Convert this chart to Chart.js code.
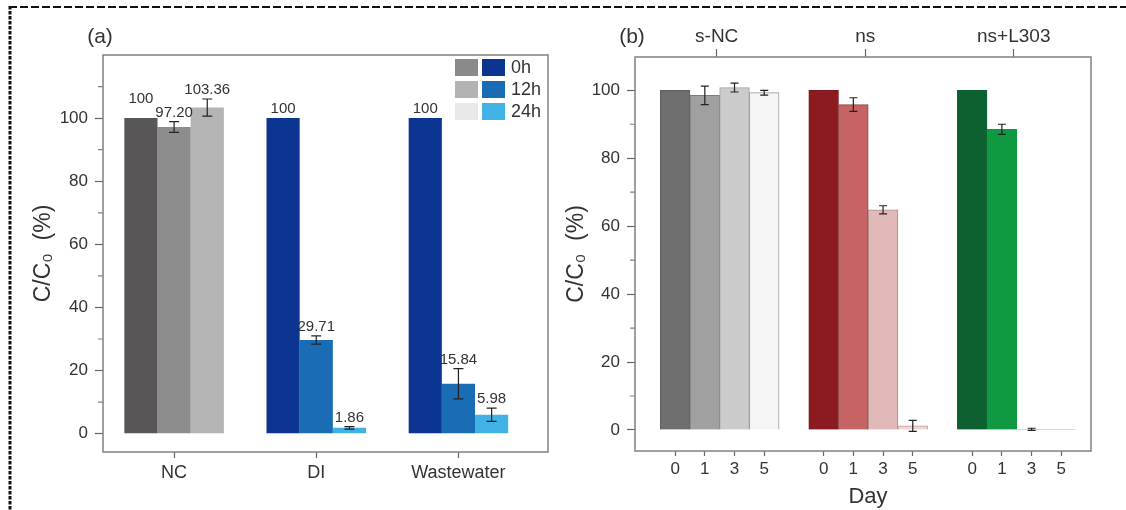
<!DOCTYPE html>
<html>
<head>
<meta charset="utf-8">
<script src="https://cdn.jsdelivr.net/npm/chart.js@4.4.1/dist/chart.umd.min.js"></script>
<style>
  html, body { margin: 0; padding: 0; background: #fff; }
  #wrap { position: relative; width: 1126px; height: 510px; overflow: hidden; }
  canvas { position: absolute; top: 0; }
</style>
</head>
<body>
<div id="wrap">
  <canvas id="frame" width="1126" height="510" style="left:0"></canvas>
  <canvas id="chartA" width="563" height="510" style="left:0"></canvas>
  <canvas id="chartB" width="563" height="510" style="left:563px"></canvas>
</div>
<script>
// ---- panel (a) data ----
const groupsA = ["NC", "DI", "Wastewater"];
const timesA = ["0h", "12h", "24h"];
const a0h = [100, 100, 100];
const a12h = [97.20, 29.71, 15.84];
const a24h = [103.36, 1.86, 5.98];
const a0hErr = [0, 0, 0];
const a12hErr = [1.7, 1.3, 4.8];
const a24hErr = [2.7, 0.4, 2.1];
const yTicksA = [0, 20, 40, 60, 80, 100];
const yMinorA = [10, 30, 50, 70, 90, 110];

// ---- panel (b) data ----
const groupsB = ["s-NC", "ns", "ns+L303"];
const daysB = ["0", "1", "3", "5"];
const sNC = [100, 98.5, 100.8, 99.3];
const ns = [100, 95.8, 64.8, 1.2];
const nsL303 = [100, 88.5, 0.2, 0.1];
const sNCErr = [0, 2.7, 1.3, 0.7];
const nsErr = [0, 2.0, 1.2, 1.6];
const nsL303Err = [0, 1.5, 0.3, 0];
const yTicksB = [0, 20, 40, 60, 80, 100];
const yMinorB = [10, 30, 50, 70, 90];

// ---- styles ----
const FONT = "'Liberation Sans', Arial, sans-serif";
const TEXT = "#333";
const AXIS = "#808080";
const grayA = ["#595657", "#8d8d8d", "#b4b4b4"];
const blueA = ["#0c3591", "#1a6db5", "#40b2e6"];
const legendGrayA = ["#8a8a8a", "#b3b3b3", "#e9e9e9"];
const colorsB = [
  ["#6e6e6e", "#a0a0a0", "#cbcbcb", "#f5f5f5"],
  ["#8c1b21", "#c66363", "#e2b9b9", "#f2d4d4"],
  ["#0d6131", "#0f9a42", "#dcefe1", "#dcefe1"]
];
const edgesB = [
  ["#5e5e5e", "#7c7c7c", "#a2a2a2", "#9c9c9c"],
  ["#7a1a1e", "#8e4646", "#b08a8a", "#c0a0a0"],
  ["#0d6131", "#0f9a42", "#7a8a80", "#7a8a80"]
];

// error bars, value labels, frame, minor ticks, titles
const panelPlugin = {
  id: "panel",
  afterDatasetsDraw(chart, args, opts) {
    const ctx = chart.ctx;
    const y = chart.scales.y;
    ctx.save();
    ctx.strokeStyle = "#222";
    ctx.lineWidth = 1.2;
    chart.data.datasets.forEach((ds, di) => {
      chart.getDatasetMeta(di).data.forEach((bar, i) => {
        const e = ds.err[i];
        if (!e) return;
        const v = ds.data[i].y;
        const top = y.getPixelForValue(v + e);
        const bot = y.getPixelForValue(v - e);
        const c = opts.cap;
        ctx.beginPath();
        ctx.moveTo(bar.x, top); ctx.lineTo(bar.x, bot);
        ctx.moveTo(bar.x - c, top); ctx.lineTo(bar.x + c, top);
        ctx.moveTo(bar.x - c, bot); ctx.lineTo(bar.x + c, bot);
        ctx.stroke();
      });
    });

    if (opts.valueLabels) {
      ctx.font = "15px " + FONT;
      ctx.fillStyle = TEXT;
      ctx.textAlign = "center";
      ctx.textBaseline = "alphabetic";
      const placed = [];
      for (let di = chart.data.datasets.length - 1; di >= 0; di--) {
        const ds = chart.data.datasets[di];
        chart.getDatasetMeta(di).data.forEach((bar, i) => {
          const v = ds.data[i].y;
          const txt = v === 100 ? "100" : v.toFixed(2);
          const w = ctx.measureText(txt).width;
          const h = 11;
          let base = y.getPixelForValue(v + ds.err[i]) - 5;
          const box = { l: bar.x - w / 2 - 3, r: bar.x + w / 2 + 3, t: base - h, b: base };
          placed.forEach(p => {
            if (box.l < p.r && box.r > p.l && box.t < p.b && box.b > p.t) {
              base = p.t - 3;
              box.b = base;
              box.t = base - h;
            }
          });
          placed.push(box);
          ctx.fillText(txt, bar.x, base);
        });
      }
    }
    ctx.restore();
  },
  afterDraw(chart, args, opts) {
    const ctx = chart.ctx;
    const a = chart.chartArea;
    const y = chart.scales.y;
    ctx.save();
    ctx.strokeStyle = AXIS;
    ctx.lineWidth = 1.5;
    ctx.strokeRect(a.left, a.top, a.right - a.left, a.bottom - a.top);

    ctx.lineWidth = 1.2;
    ctx.beginPath();
    opts.minor.forEach(v => {
      const p = y.getPixelForValue(v);
      ctx.moveTo(a.left - 5, p);
      ctx.lineTo(a.left, p);
    });
    ctx.stroke();

    ctx.fillStyle = TEXT;
    ctx.textAlign = "center";
    ctx.textBaseline = "middle";
    ctx.font = "21px " + FONT;
    ctx.fillText(opts.tag, opts.tagX, 37);

    if (opts.xTitle) {
      ctx.font = "22px " + FONT;
      ctx.fillText(opts.xTitle, (a.left + a.right) / 2 + 5, 497);
    }

    if (opts.legend) {
      ctx.font = "18px " + FONT;
      ctx.textAlign = "left";
      chart.data.datasets.forEach((ds, i) => {
        const top = a.top + 4 + i * 22;
        ctx.fillStyle = ds.legendGray;
        ctx.fillRect(a.right - 93, top, 23, 17);
        ctx.fillStyle = ds.legendColor;
        ctx.fillRect(a.right - 66, top, 23, 17);
        ctx.fillStyle = TEXT;
        ctx.fillText(ds.label, a.right - 37, top + 9);
      });
    }

    ctx.translate(opts.yTitleX, (a.top + a.bottom) / 2);
    ctx.rotate(-Math.PI / 2);
    ctx.font = "23px " + FONT;
    ctx.textAlign = "center";
    ctx.fillStyle = TEXT;
    ctx.fillText("C/C\u2080  (%)", 0, 0);
    ctx.restore();
  }
};

const yScale = (min, max, ticks, width) => ({
  type: "linear",
  min: min,
  max: max,
  afterBuildTicks: s => { s.ticks = ticks.map(v => ({ value: v })); },
  afterFit: s => { s.width = width; },
  border: { display: false },
  grid: { drawOnChartArea: false, drawTicks: true, tickLength: 8, tickColor: "#666", tickWidth: 1.2 },
  ticks: { color: TEXT, font: { family: FONT, size: 17 }, padding: 7 }
});

// ---- panel (a) ----
const seriesA = [a0h, a12h, a24h];
const errA = [a0hErr, a12hErr, a24hErr];

new Chart(document.getElementById("chartA"), {
  type: "bar",
  data: {
    datasets: timesA.map((t, s) => ({
      label: t,
      data: groupsA.map((g, i) => ({ x: i, y: seriesA[s][i] })),
      err: errA[s],
      backgroundColor: groupsA.map((g, i) => (i === 0 ? grayA[s] : blueA[s])),
      legendGray: legendGrayA[s],
      legendColor: blueA[s],
      borderWidth: 0,
      barPercentage: 1,
      categoryPercentage: 0.7
    }))
  },
  options: {
    responsive: false,
    animation: false,
    layout: { padding: { top: 55, right: 15, left: 0, bottom: 0 } },
    plugins: {
      legend: { display: false },
      tooltip: { enabled: false },
      panel: { cap: 5, valueLabels: true, minor: yMinorA, tag: "(a)", tagX: 100, yTitleX: 44, legend: true }
    },
    scales: {
      x: {
        type: "linear",
        min: -0.5,
        max: 2.63,
        offset: false,
        afterBuildTicks: s => { s.ticks = groupsA.map((g, i) => ({ value: i })); },
        afterFit: s => { s.height = 58; },
        border: { display: false },
        grid: { offset: false, drawOnChartArea: false, drawTicks: true, tickLength: 6, tickColor: "#666", tickWidth: 1.2 },
        ticks: {
          color: TEXT,
          font: { family: FONT, size: 18 },
          padding: 4,
          maxRotation: 0,
          callback: (v, i) => groupsA[i]
        }
      },
      y: yScale(-5.8, 120, yTicksA, 103)
    }
  },
  plugins: [panelPlugin]
});

// ---- panel (b) ----
const seriesB = [sNC, ns, nsL303];
const errB = [sNCErr, nsErr, nsL303Err];

new Chart(document.getElementById("chartB"), {
  type: "bar",
  data: {
    datasets: [{
      label: "C/C0",
      xAxisID: "x",
      data: groupsB.flatMap((g, gi) => daysB.map((d, k) => ({ x: gi * 5 + k, y: seriesB[gi][k] }))),
      err: errB.flat(),
      backgroundColor: colorsB.flat(),
      borderColor: edgesB.flat(),
      borderWidth: 1,
      barPercentage: 1,
      categoryPercentage: 1
    }]
  },
  options: {
    responsive: false,
    animation: false,
    layout: { padding: { top: 0, right: 35, left: 0, bottom: 0 } },
    plugins: {
      legend: { display: false },
      tooltip: { enabled: false },
      panel: { cap: 4, valueLabels: false, minor: yMinorB, tag: "(b)", tagX: 69, yTitleX: 14, xTitle: "Day" }
    },
    scales: {
      x: {
        type: "linear",
        min: -1.35,
        max: 14,
        offset: false,
        afterBuildTicks: s => {
          s.ticks = groupsB.flatMap((g, gi) => daysB.map((d, k) => ({ value: gi * 5 + k })));
        },
        afterFit: s => { s.height = 59; },
        border: { display: false },
        grid: { offset: false, drawOnChartArea: false, drawTicks: true, tickLength: 5, tickColor: "#666", tickWidth: 1.2 },
        ticks: {
          color: TEXT,
          font: { family: FONT, size: 17 },
          padding: 3,
          maxRotation: 0,
          autoSkip: false,
          callback: (v, i) => daysB[i % daysB.length]
        }
      },
      x2: {
        type: "linear",
        position: "top",
        min: -1.35,
        max: 14,
        offset: false,
        afterBuildTicks: s => { s.ticks = groupsB.map((g, gi) => ({ value: gi * 5 + 1.4 })); },
        afterFit: s => { s.height = 57; },
        border: { display: false },
        grid: { offset: false, drawOnChartArea: false, drawTicks: true, tickLength: 8, tickColor: "#666", tickWidth: 1.2 },
        ticks: {
          color: TEXT,
          font: { family: FONT, size: 19 },
          padding: 1,
          maxRotation: 0,
          autoSkip: false,
          callback: (v, i) => groupsB[i]
        }
      },
      y: yScale(-6.2, 109.8, yTicksB, 72)
    }
  },
  plugins: [panelPlugin]
});

// ---- dashed outer frame ----
const fctx = document.getElementById("frame").getContext("2d");
fctx.strokeStyle = "#111";
fctx.lineWidth = 2;
fctx.setLineDash([8, 3]);
fctx.beginPath();
fctx.moveTo(9, 7);
fctx.lineTo(1126, 7);
fctx.stroke();
fctx.lineWidth = 3;
fctx.setLineDash([3.5, 1.5]);
fctx.beginPath();
fctx.moveTo(10, 6);
fctx.lineTo(10, 510);
fctx.stroke();
</script>
</body>
</html>
